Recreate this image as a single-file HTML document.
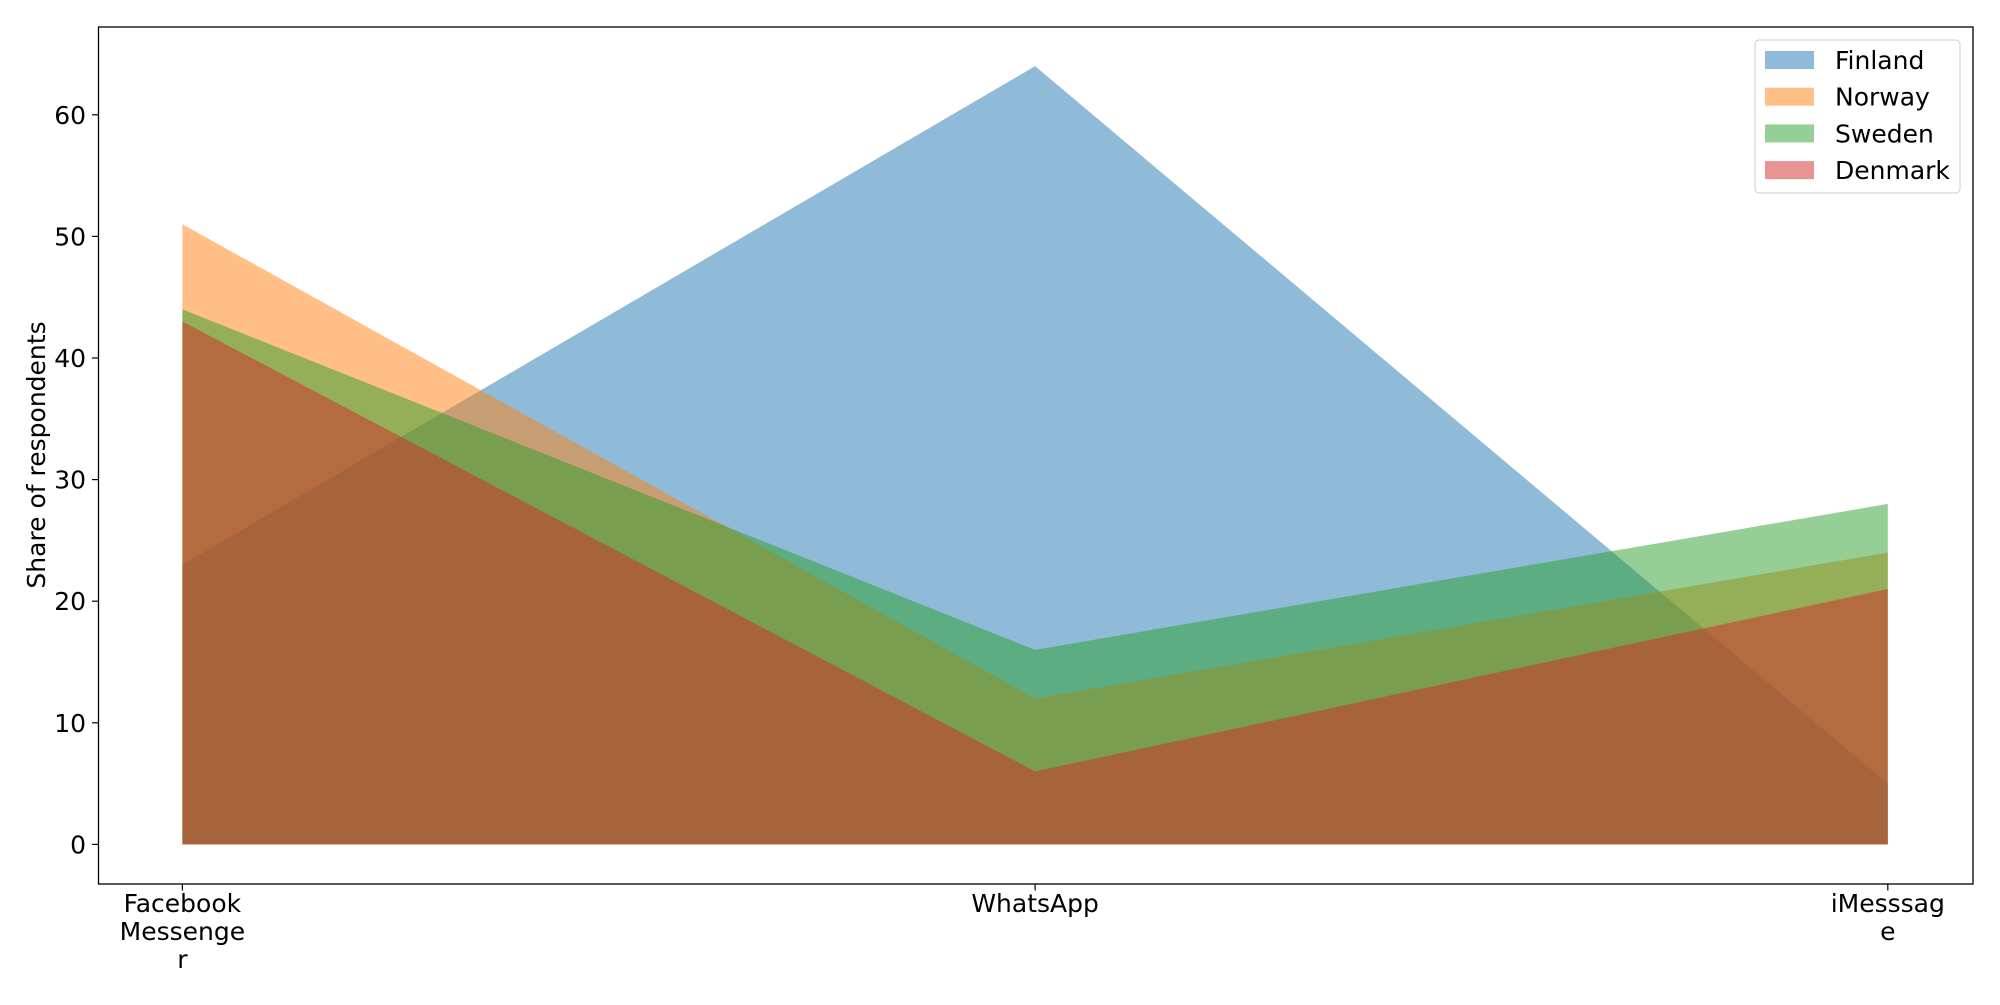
<!DOCTYPE html>
<html><head><meta charset="utf-8"><style>
body{margin:0;background:#fff}
svg text{font-family:"DejaVu Sans","Liberation Sans",sans-serif;fill:#000}
</style></head><body>
<svg id="chart" width="2000" height="1000" xmlns="http://www.w3.org/2000/svg">
<rect x="0" y="0" width="2000" height="1000" fill="#fff"/>
<g id="areas"></g>
<rect x="98.5" y="27" width="1874.5" height="857" fill="none" stroke="#000" stroke-width="1.3"/>
<g id="yticks"></g>
<g id="xticks"></g>
<text x="38" y="455" font-size="25" text-anchor="middle" transform="rotate(-90 38 455)" dominant-baseline="middle">Share of respondents</text>
<g id="legend"></g>
</svg>
<script>
const categories=["Facebook\nMessenge\nr","WhatsApp","iMesssag\ne"];
const seriesNames=["Finland","Norway","Sweden","Denmark"];
const finland=[23,64,5];
const norway=[51,12,24];
const sweden=[44,16,28];
const denmark=[43,6,21];
const yTicks=[0,10,20,30,40,50,60];
const colors=["#1f77b4","#ff7f0e","#2ca02c","#d62728"];
const series=[finland,norway,sweden,denmark];
const NS="http://www.w3.org/2000/svg";
function xPos(i){return 182.4+i*(1887.8-182.4)/(categories.length-1);}
function yPos(v){return 844.4-v*12.16;}
const areas=document.getElementById('areas');
series.forEach((s,k)=>{
  let d="M"+xPos(0)+","+yPos(0);
  s.forEach((v,i)=>{d+=" L"+xPos(i)+","+yPos(v);});
  d+=" L"+xPos(s.length-1)+","+yPos(0)+" Z";
  const p=document.createElementNS(NS,'path');
  p.setAttribute('d',d);p.setAttribute('fill',colors[k]);p.setAttribute('fill-opacity','0.5');
  
  
  areas.appendChild(p);
});
const yt=document.getElementById('yticks');
yTicks.forEach(v=>{
  const y=yPos(v);
  const l=document.createElementNS(NS,'line');
  l.setAttribute('x1',92);l.setAttribute('x2',98.5);l.setAttribute('y1',y);l.setAttribute('y2',y);l.setAttribute('stroke','#000');l.setAttribute('stroke-width','1.2');
  
  
  yt.appendChild(l);
  const t=document.createElementNS(NS,'text');
  t.setAttribute('x',86);t.setAttribute('y',y+9);t.setAttribute('font-size','25');t.setAttribute('text-anchor','end');
  t.textContent=v;
  
  
  yt.appendChild(t);
});
const xt=document.getElementById('xticks');
categories.forEach((c,i)=>{
  const x=xPos(i);
  const l=document.createElementNS(NS,'line');
  l.setAttribute('x1',x);l.setAttribute('x2',x);l.setAttribute('y1',884);l.setAttribute('y2',890.5);l.setAttribute('stroke','#000');l.setAttribute('stroke-width','1.2');
  
  
  xt.appendChild(l);
  c.split("\n").forEach((line,j)=>{
    const t=document.createElementNS(NS,'text');
    t.setAttribute('x',x);t.setAttribute('y',912+j*28);t.setAttribute('font-size','25');t.setAttribute('text-anchor','middle');
    t.textContent=line;
    
    
    xt.appendChild(t);
  });
});
const lg=document.getElementById('legend');
const box=document.createElementNS(NS,'rect');
box.setAttribute('x',1755);box.setAttribute('y',40);box.setAttribute('width',205);box.setAttribute('height',153);box.setAttribute('rx',4);
box.setAttribute('fill','#fff');box.setAttribute('fill-opacity','0.8');box.setAttribute('stroke','#ccc');


lg.appendChild(box);
seriesNames.forEach((n,k)=>{
  const y=60+k*36.7;
  const r=document.createElementNS(NS,'rect');
  r.setAttribute('x',1765);r.setAttribute('y',y-9);r.setAttribute('width',49);r.setAttribute('height',18);
  r.setAttribute('fill',colors[k]);r.setAttribute('fill-opacity','0.5');
  
  
  lg.appendChild(r);
  const t=document.createElementNS(NS,'text');
  t.setAttribute('x',1835);t.setAttribute('y',y+9);t.setAttribute('font-size','25');
  t.textContent=n;
  
  
  lg.appendChild(t);
});
</script>
</body></html>
